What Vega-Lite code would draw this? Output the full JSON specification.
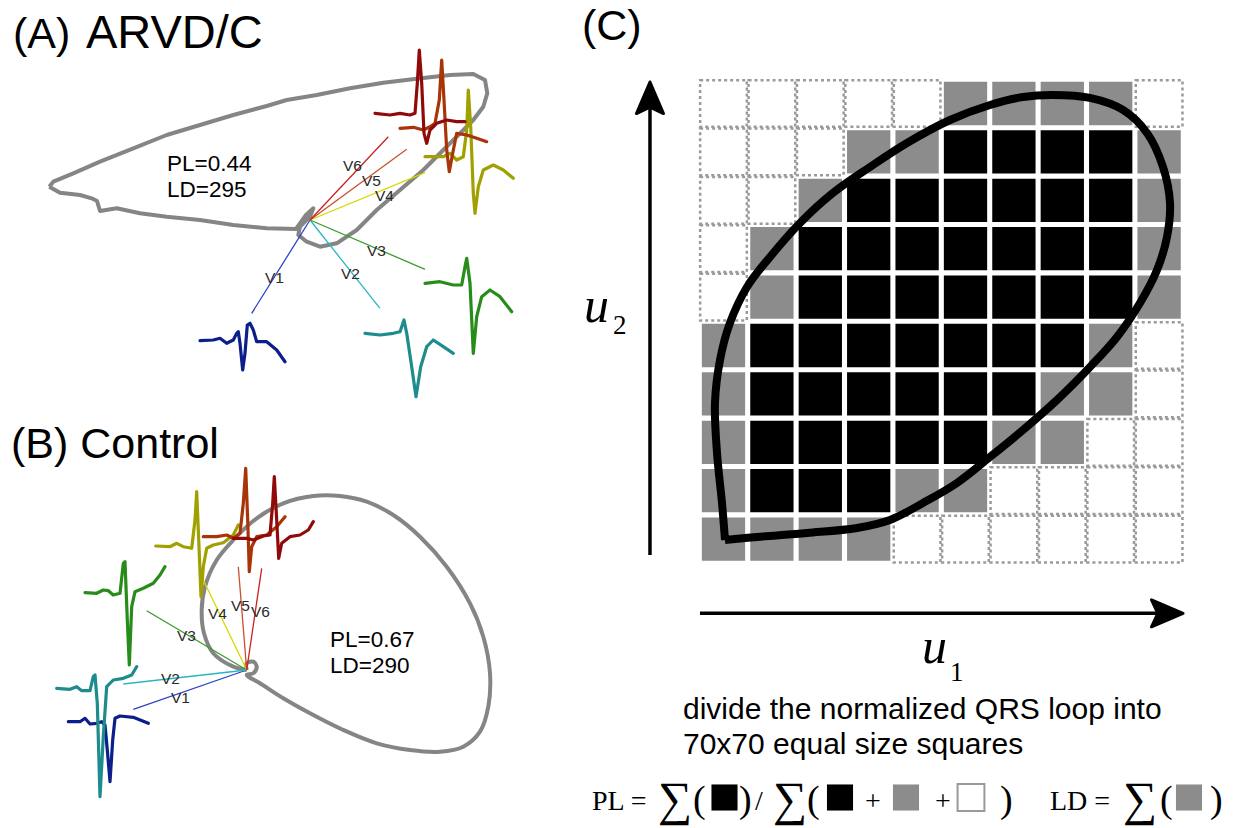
{
  "$schema": "https://vega.github.io/schema/vega-lite/v6.json",
  "width": 1238,
  "height": 828,
  "padding": 0,
  "autosize": {"type": "none"},
  "background": "white",
  "config": {"view": {"stroke": null}},
  "datasets": {
    "cells": [
      {"u":1,"v":10,"k":"E"},{"u":2,"v":10,"k":"E"},{"u":3,"v":10,"k":"E"},{"u":4,"v":10,"k":"E"},{"u":5,"v":10,"k":"E"},{"u":6,"v":10,"k":"G"},{"u":7,"v":10,"k":"G"},{"u":8,"v":10,"k":"G"},{"u":9,"v":10,"k":"G"},{"u":10,"v":10,"k":"E"},
      {"u":1,"v":9,"k":"E"},{"u":2,"v":9,"k":"E"},{"u":3,"v":9,"k":"E"},{"u":4,"v":9,"k":"G"},{"u":5,"v":9,"k":"G"},{"u":6,"v":9,"k":"B"},{"u":7,"v":9,"k":"B"},{"u":8,"v":9,"k":"B"},{"u":9,"v":9,"k":"B"},{"u":10,"v":9,"k":"G"},
      {"u":1,"v":8,"k":"E"},{"u":2,"v":8,"k":"E"},{"u":3,"v":8,"k":"G"},{"u":4,"v":8,"k":"B"},{"u":5,"v":8,"k":"B"},{"u":6,"v":8,"k":"B"},{"u":7,"v":8,"k":"B"},{"u":8,"v":8,"k":"B"},{"u":9,"v":8,"k":"B"},{"u":10,"v":8,"k":"G"},
      {"u":1,"v":7,"k":"E"},{"u":2,"v":7,"k":"G"},{"u":3,"v":7,"k":"B"},{"u":4,"v":7,"k":"B"},{"u":5,"v":7,"k":"B"},{"u":6,"v":7,"k":"B"},{"u":7,"v":7,"k":"B"},{"u":8,"v":7,"k":"B"},{"u":9,"v":7,"k":"B"},{"u":10,"v":7,"k":"G"},
      {"u":1,"v":6,"k":"E"},{"u":2,"v":6,"k":"G"},{"u":3,"v":6,"k":"B"},{"u":4,"v":6,"k":"B"},{"u":5,"v":6,"k":"B"},{"u":6,"v":6,"k":"B"},{"u":7,"v":6,"k":"B"},{"u":8,"v":6,"k":"B"},{"u":9,"v":6,"k":"B"},{"u":10,"v":6,"k":"G"},
      {"u":1,"v":5,"k":"G"},{"u":2,"v":5,"k":"B"},{"u":3,"v":5,"k":"B"},{"u":4,"v":5,"k":"B"},{"u":5,"v":5,"k":"B"},{"u":6,"v":5,"k":"B"},{"u":7,"v":5,"k":"B"},{"u":8,"v":5,"k":"B"},{"u":9,"v":5,"k":"G"},{"u":10,"v":5,"k":"E"},
      {"u":1,"v":4,"k":"G"},{"u":2,"v":4,"k":"B"},{"u":3,"v":4,"k":"B"},{"u":4,"v":4,"k":"B"},{"u":5,"v":4,"k":"B"},{"u":6,"v":4,"k":"B"},{"u":7,"v":4,"k":"B"},{"u":8,"v":4,"k":"G"},{"u":9,"v":4,"k":"G"},{"u":10,"v":4,"k":"E"},
      {"u":1,"v":3,"k":"G"},{"u":2,"v":3,"k":"B"},{"u":3,"v":3,"k":"B"},{"u":4,"v":3,"k":"B"},{"u":5,"v":3,"k":"B"},{"u":6,"v":3,"k":"B"},{"u":7,"v":3,"k":"G"},{"u":8,"v":3,"k":"G"},{"u":9,"v":3,"k":"E"},{"u":10,"v":3,"k":"E"},
      {"u":1,"v":2,"k":"G"},{"u":2,"v":2,"k":"B"},{"u":3,"v":2,"k":"B"},{"u":4,"v":2,"k":"B"},{"u":5,"v":2,"k":"G"},{"u":6,"v":2,"k":"G"},{"u":7,"v":2,"k":"E"},{"u":8,"v":2,"k":"E"},{"u":9,"v":2,"k":"E"},{"u":10,"v":2,"k":"E"},
      {"u":1,"v":1,"k":"G"},{"u":2,"v":1,"k":"G"},{"u":3,"v":1,"k":"G"},{"u":4,"v":1,"k":"G"},{"u":5,"v":1,"k":"E"},{"u":6,"v":1,"k":"E"},{"u":7,"v":1,"k":"E"},{"u":8,"v":1,"k":"E"},{"u":9,"v":1,"k":"E"},{"u":10,"v":1,"k":"E"}
    ],
    "loopC": [
      {"i":0,"u":1.031,"v":0.981},{"i":1,"u":0.969,"v":1.746},{"i":2,"u":0.866,"v":2.779},{"i":3,"u":0.824,"v":3.812},{"i":4,"u":0.928,"v":4.7},{"i":5,"u":1.134,"v":5.465},{"i":6,"u":1.486,"v":6.209},{"i":7,"u":1.961,"v":6.829},{"i":8,"u":2.581,"v":7.531},{"i":9,"u":3.262,"v":8.151},{"i":10,"u":4.027,"v":8.688},{"i":11,"u":4.791,"v":9.184},{"i":12,"u":5.68,"v":9.659},{"i":13,"u":6.506,"v":9.969},{"i":14,"u":7.188,"v":10.134},{"i":15,"u":7.808,"v":10.176},{"i":16,"u":8.572,"v":10.114},{"i":17,"u":9.254,"v":9.866},{"i":18,"u":9.75,"v":9.39},{"i":19,"u":10.081,"v":8.688},{"i":20,"u":10.225,"v":7.944},{"i":21,"u":10.163,"v":7.242},{"i":22,"u":9.957,"v":6.56},{"i":23,"u":9.605,"v":5.878},{"i":24,"u":9.13,"v":5.176},{"i":25,"u":8.572,"v":4.556},{"i":26,"u":7.89,"v":3.874},{"i":27,"u":7.188,"v":3.254},{"i":28,"u":6.506,"v":2.696},{"i":29,"u":5.824,"v":2.159},{"i":30,"u":5.122,"v":1.746},{"i":31,"u":4.44,"v":1.395},{"i":32,"u":3.758,"v":1.229},{"i":33,"u":2.725,"v":1.126},{"i":34,"u":1.692,"v":1.043},{"i":35,"u":1.031,"v":0.981}
    ],
    "axesC": [
      {"axis":"u1","i":0,"u":0.514,"v":-0.533},{"axis":"u1","i":1,"u":10.02,"v":-0.533},
      {"axis":"u2","i":0,"u":-0.519,"v":0.671},{"axis":"u2","i":1,"u":-0.519,"v":9.97}
    ],
    "headsC": [
      {"axis":"u1","u":10.122,"v":-0.533},
      {"axis":"u2","u":-0.519,"v":10.072}
    ],
    "loops": [
      {"p":"A","i":0,"x":49.3,"y":186.7},{"p":"A","i":1,"x":53.3,"y":181.7},{"p":"A","i":2,"x":73.3,"y":173.3},{"p":"A","i":3,"x":100,"y":161.7},{"p":"A","i":4,"x":133.3,"y":148.3},{"p":"A","i":5,"x":166.7,"y":135},{"p":"A","i":6,"x":200,"y":125},{"p":"A","i":7,"x":233.3,"y":115},{"p":"A","i":8,"x":266.7,"y":106},{"p":"A","i":9,"x":286.7,"y":100},{"p":"A","i":10,"x":316.7,"y":95},{"p":"A","i":11,"x":350,"y":88.3},{"p":"A","i":12,"x":383.3,"y":82.7},{"p":"A","i":13,"x":416.7,"y":78.7},{"p":"A","i":14,"x":450,"y":75},{"p":"A","i":15,"x":473.3,"y":74},{"p":"A","i":16,"x":485,"y":80},{"p":"A","i":17,"x":487.3,"y":93.3},{"p":"A","i":18,"x":483.3,"y":106.7},{"p":"A","i":19,"x":473.3,"y":120},{"p":"A","i":20,"x":460,"y":133.3},{"p":"A","i":21,"x":443.3,"y":150},{"p":"A","i":22,"x":423.3,"y":170},{"p":"A","i":23,"x":400,"y":190},{"p":"A","i":24,"x":376.7,"y":210},{"p":"A","i":25,"x":356.7,"y":230},{"p":"A","i":26,"x":336.7,"y":243.3},{"p":"A","i":27,"x":320,"y":246.7},{"p":"A","i":28,"x":306.7,"y":241.7},{"p":"A","i":29,"x":298.3,"y":235},{"p":"A","i":30,"x":300,"y":226.7},{"p":"A","i":31,"x":310,"y":216.7},{"p":"A","i":32,"x":313.3,"y":208.3},{"p":"A","i":33,"x":306,"y":215},{"p":"A","i":34,"x":296,"y":229},{"p":"A","i":35,"x":266.7,"y":228.3},{"p":"A","i":36,"x":233.3,"y":225},{"p":"A","i":37,"x":200,"y":220},{"p":"A","i":38,"x":166.7,"y":216.7},{"p":"A","i":39,"x":140,"y":213.3},{"p":"A","i":40,"x":116.7,"y":208.3},{"p":"A","i":41,"x":100,"y":211},{"p":"A","i":42,"x":97,"y":201},{"p":"A","i":43,"x":91.7,"y":198.3},{"p":"A","i":44,"x":80,"y":195},{"p":"A","i":45,"x":60,"y":192.7},{"p":"A","i":46,"x":49.3,"y":186.7},
      {"p":"B","i":0,"x":246.7,"y":670},{"p":"B","i":1,"x":233.3,"y":666.7},{"p":"B","i":2,"x":213.3,"y":653.3},{"p":"B","i":3,"x":204,"y":633.3},{"p":"B","i":4,"x":201.7,"y":610},{"p":"B","i":5,"x":205,"y":586.7},{"p":"B","i":6,"x":216.7,"y":560},{"p":"B","i":7,"x":233.3,"y":540},{"p":"B","i":8,"x":256.7,"y":518.3},{"p":"B","i":9,"x":283.3,"y":503.3},{"p":"B","i":10,"x":313.3,"y":496},{"p":"B","i":11,"x":340,"y":496},{"p":"B","i":12,"x":366.7,"y":501.7},{"p":"B","i":13,"x":393.3,"y":515},{"p":"B","i":14,"x":420,"y":536.7},{"p":"B","i":15,"x":446.7,"y":566.7},{"p":"B","i":16,"x":470,"y":603.3},{"p":"B","i":17,"x":483.3,"y":636.7},{"p":"B","i":18,"x":490,"y":673.3},{"p":"B","i":19,"x":488.3,"y":706.7},{"p":"B","i":20,"x":480,"y":731.7},{"p":"B","i":21,"x":463.3,"y":746.7},{"p":"B","i":22,"x":440,"y":751.7},{"p":"B","i":23,"x":410,"y":750},{"p":"B","i":24,"x":376.7,"y":743.3},{"p":"B","i":25,"x":343.3,"y":730},{"p":"B","i":26,"x":310,"y":713.3},{"p":"B","i":27,"x":283.3,"y":698.3},{"p":"B","i":28,"x":260,"y":683.3},{"p":"B","i":29,"x":246.7,"y":675},{"p":"B","i":30,"x":253.3,"y":673.3},{"p":"B","i":31,"x":256.7,"y":666.7},{"p":"B","i":32,"x":253.3,"y":661.7},{"p":"B","i":33,"x":246.7,"y":663.3},{"p":"B","i":34,"x":246.7,"y":670}
    ],
    "leads": [
      {"p":"A","lead":"V1","i":0,"x":310,"y":220},{"p":"A","lead":"V1","i":1,"x":251.7,"y":313.3},
      {"p":"A","lead":"V2","i":0,"x":310,"y":220},{"p":"A","lead":"V2","i":1,"x":380,"y":308.3},
      {"p":"A","lead":"V3","i":0,"x":310,"y":220},{"p":"A","lead":"V3","i":1,"x":425,"y":269.3},
      {"p":"A","lead":"V4","i":0,"x":310,"y":220},{"p":"A","lead":"V4","i":1,"x":425,"y":172.7},
      {"p":"A","lead":"V5","i":0,"x":310,"y":220},{"p":"A","lead":"V5","i":1,"x":406.7,"y":149.3},
      {"p":"A","lead":"V6","i":0,"x":310,"y":220},{"p":"A","lead":"V6","i":1,"x":388.3,"y":136.7},
      {"p":"B","lead":"V1","i":0,"x":246.7,"y":670},{"p":"B","lead":"V1","i":1,"x":133.3,"y":709.3},
      {"p":"B","lead":"V2","i":0,"x":246.7,"y":670},{"p":"B","lead":"V2","i":1,"x":123.3,"y":684},
      {"p":"B","lead":"V3","i":0,"x":246.7,"y":670},{"p":"B","lead":"V3","i":1,"x":146.7,"y":610.7},
      {"p":"B","lead":"V4","i":0,"x":246.7,"y":670},{"p":"B","lead":"V4","i":1,"x":203.3,"y":580},
      {"p":"B","lead":"V5","i":0,"x":246.7,"y":670},{"p":"B","lead":"V5","i":1,"x":238.3,"y":566.7},
      {"p":"B","lead":"V6","i":0,"x":246.7,"y":670},{"p":"B","lead":"V6","i":1,"x":261.7,"y":568.3}
    ],
    "ecg": [
      {"p":"A","lead":"V1","i":0,"x":200,"y":340.7},{"p":"A","lead":"V1","i":1,"x":213.3,"y":340},{"p":"A","lead":"V1","i":2,"x":220,"y":338.3},{"p":"A","lead":"V1","i":3,"x":226.7,"y":343.3},{"p":"A","lead":"V1","i":4,"x":233.3,"y":340},{"p":"A","lead":"V1","i":5,"x":236.7,"y":333.3},{"p":"A","lead":"V1","i":6,"x":238.3,"y":331.7},{"p":"A","lead":"V1","i":7,"x":240,"y":343.3},{"p":"A","lead":"V1","i":8,"x":242.7,"y":370},{"p":"A","lead":"V1","i":9,"x":245,"y":353.3},{"p":"A","lead":"V1","i":10,"x":247.3,"y":325},{"p":"A","lead":"V1","i":11,"x":250,"y":323.3},{"p":"A","lead":"V1","i":12,"x":253.3,"y":330},{"p":"A","lead":"V1","i":13,"x":256.7,"y":341.7},{"p":"A","lead":"V1","i":14,"x":266.7,"y":341.7},{"p":"A","lead":"V1","i":15,"x":276.7,"y":350},{"p":"A","lead":"V1","i":16,"x":285,"y":361.7},
      {"p":"A","lead":"V2","i":0,"x":365,"y":333.3},{"p":"A","lead":"V2","i":1,"x":380,"y":335},{"p":"A","lead":"V2","i":2,"x":393.3,"y":333.3},{"p":"A","lead":"V2","i":3,"x":400,"y":331.7},{"p":"A","lead":"V2","i":4,"x":404,"y":320},{"p":"A","lead":"V2","i":5,"x":406.7,"y":333.3},{"p":"A","lead":"V2","i":6,"x":411.7,"y":366.7},{"p":"A","lead":"V2","i":7,"x":416,"y":396.7},{"p":"A","lead":"V2","i":8,"x":420.7,"y":366.7},{"p":"A","lead":"V2","i":9,"x":426.7,"y":346.7},{"p":"A","lead":"V2","i":10,"x":433.3,"y":340},{"p":"A","lead":"V2","i":11,"x":443.3,"y":346.7},{"p":"A","lead":"V2","i":12,"x":453.3,"y":353.3},
      {"p":"A","lead":"V3","i":0,"x":425,"y":283.3},{"p":"A","lead":"V3","i":1,"x":440,"y":281.7},{"p":"A","lead":"V3","i":2,"x":453.3,"y":285},{"p":"A","lead":"V3","i":3,"x":461.7,"y":285},{"p":"A","lead":"V3","i":4,"x":465,"y":266.7},{"p":"A","lead":"V3","i":5,"x":466.7,"y":258.3},{"p":"A","lead":"V3","i":6,"x":470,"y":283.3},{"p":"A","lead":"V3","i":7,"x":473.3,"y":353.3},{"p":"A","lead":"V3","i":8,"x":476.7,"y":316.7},{"p":"A","lead":"V3","i":9,"x":481.7,"y":296.7},{"p":"A","lead":"V3","i":10,"x":490,"y":290},{"p":"A","lead":"V3","i":11,"x":500,"y":296.7},{"p":"A","lead":"V3","i":12,"x":511.7,"y":311.7},
      {"p":"A","lead":"V4","i":0,"x":425,"y":156.7},{"p":"A","lead":"V4","i":1,"x":443.3,"y":156.7},{"p":"A","lead":"V4","i":2,"x":450,"y":153.3},{"p":"A","lead":"V4","i":3,"x":456.7,"y":160},{"p":"A","lead":"V4","i":4,"x":463.3,"y":156.7},{"p":"A","lead":"V4","i":5,"x":466.7,"y":130},{"p":"A","lead":"V4","i":6,"x":468.3,"y":90},{"p":"A","lead":"V4","i":7,"x":470.7,"y":126.7},{"p":"A","lead":"V4","i":8,"x":473.3,"y":193.3},{"p":"A","lead":"V4","i":9,"x":475,"y":213.3},{"p":"A","lead":"V4","i":10,"x":478.3,"y":186.7},{"p":"A","lead":"V4","i":11,"x":483.3,"y":170},{"p":"A","lead":"V4","i":12,"x":493.3,"y":165},{"p":"A","lead":"V4","i":13,"x":503.3,"y":170},{"p":"A","lead":"V4","i":14,"x":513.3,"y":178.3},
      {"p":"A","lead":"V5","i":0,"x":400,"y":128.3},{"p":"A","lead":"V5","i":1,"x":413.3,"y":127.3},{"p":"A","lead":"V5","i":2,"x":423.3,"y":130},{"p":"A","lead":"V5","i":3,"x":430,"y":126.7},{"p":"A","lead":"V5","i":4,"x":435,"y":123.3},{"p":"A","lead":"V5","i":5,"x":439.3,"y":100},{"p":"A","lead":"V5","i":6,"x":441.7,"y":60},{"p":"A","lead":"V5","i":7,"x":444,"y":100},{"p":"A","lead":"V5","i":8,"x":446.7,"y":150},{"p":"A","lead":"V5","i":9,"x":449.3,"y":171.7},{"p":"A","lead":"V5","i":10,"x":452.7,"y":153.3},{"p":"A","lead":"V5","i":11,"x":456.7,"y":133.3},{"p":"A","lead":"V5","i":12,"x":466.7,"y":135},{"p":"A","lead":"V5","i":13,"x":476.7,"y":138.3},{"p":"A","lead":"V5","i":14,"x":486.7,"y":141.7},
      {"p":"A","lead":"V6","i":0,"x":375,"y":113.3},{"p":"A","lead":"V6","i":1,"x":390,"y":115},{"p":"A","lead":"V6","i":2,"x":400,"y":113.3},{"p":"A","lead":"V6","i":3,"x":410,"y":115},{"p":"A","lead":"V6","i":4,"x":415,"y":113.3},{"p":"A","lead":"V6","i":5,"x":417.3,"y":83.3},{"p":"A","lead":"V6","i":6,"x":419.3,"y":50},{"p":"A","lead":"V6","i":7,"x":421.7,"y":83.3},{"p":"A","lead":"V6","i":8,"x":424,"y":133.3},{"p":"A","lead":"V6","i":9,"x":426.7,"y":143.3},{"p":"A","lead":"V6","i":10,"x":430,"y":130},{"p":"A","lead":"V6","i":11,"x":436.7,"y":123.3},{"p":"A","lead":"V6","i":12,"x":446.7,"y":120},{"p":"A","lead":"V6","i":13,"x":456.7,"y":121.7},{"p":"A","lead":"V6","i":14,"x":465,"y":121.7},
      {"p":"B","lead":"V1","i":0,"x":68.3,"y":721.7},{"p":"B","lead":"V1","i":1,"x":80,"y":721.7},{"p":"B","lead":"V1","i":2,"x":85,"y":718.3},{"p":"B","lead":"V1","i":3,"x":90,"y":724},{"p":"B","lead":"V1","i":4,"x":96.7,"y":723.3},{"p":"B","lead":"V1","i":5,"x":101.7,"y":721.7},{"p":"B","lead":"V1","i":6,"x":105,"y":725},{"p":"B","lead":"V1","i":7,"x":107.3,"y":750},{"p":"B","lead":"V1","i":8,"x":110,"y":781.7},{"p":"B","lead":"V1","i":9,"x":112.7,"y":740},{"p":"B","lead":"V1","i":10,"x":115,"y":718.3},{"p":"B","lead":"V1","i":11,"x":120,"y":716},{"p":"B","lead":"V1","i":12,"x":133.3,"y":717.3},{"p":"B","lead":"V1","i":13,"x":148.3,"y":723.3},
      {"p":"B","lead":"V2","i":0,"x":56.7,"y":688.3},{"p":"B","lead":"V2","i":1,"x":70,"y":689.3},{"p":"B","lead":"V2","i":2,"x":76.7,"y":686.7},{"p":"B","lead":"V2","i":3,"x":81.7,"y":690.7},{"p":"B","lead":"V2","i":4,"x":90,"y":690.7},{"p":"B","lead":"V2","i":5,"x":93.3,"y":676.7},{"p":"B","lead":"V2","i":6,"x":95,"y":675},{"p":"B","lead":"V2","i":7,"x":97.3,"y":703.3},{"p":"B","lead":"V2","i":8,"x":100,"y":796.7},{"p":"B","lead":"V2","i":9,"x":103.3,"y":736.7},{"p":"B","lead":"V2","i":10,"x":106.7,"y":686.7},{"p":"B","lead":"V2","i":11,"x":113.3,"y":680},{"p":"B","lead":"V2","i":12,"x":123.3,"y":678.3},{"p":"B","lead":"V2","i":13,"x":131.7,"y":675},{"p":"B","lead":"V2","i":14,"x":136.7,"y":666.7},
      {"p":"B","lead":"V3","i":0,"x":85,"y":592.7},{"p":"B","lead":"V3","i":1,"x":96.7,"y":593.3},{"p":"B","lead":"V3","i":2,"x":103.3,"y":590},{"p":"B","lead":"V3","i":3,"x":108.3,"y":590.7},{"p":"B","lead":"V3","i":4,"x":113.3,"y":595},{"p":"B","lead":"V3","i":5,"x":120,"y":593.3},{"p":"B","lead":"V3","i":6,"x":123.3,"y":563.3},{"p":"B","lead":"V3","i":7,"x":125,"y":561.7},{"p":"B","lead":"V3","i":8,"x":127.3,"y":620},{"p":"B","lead":"V3","i":9,"x":129.3,"y":665},{"p":"B","lead":"V3","i":10,"x":131.7,"y":606.7},{"p":"B","lead":"V3","i":11,"x":135,"y":591.7},{"p":"B","lead":"V3","i":12,"x":143.3,"y":588.3},{"p":"B","lead":"V3","i":13,"x":153.3,"y":583.3},{"p":"B","lead":"V3","i":14,"x":160,"y":575},{"p":"B","lead":"V3","i":15,"x":165,"y":566.7},
      {"p":"B","lead":"V4","i":0,"x":155.7,"y":546},{"p":"B","lead":"V4","i":1,"x":170,"y":546.7},{"p":"B","lead":"V4","i":2,"x":176.7,"y":543.3},{"p":"B","lead":"V4","i":3,"x":183.3,"y":546.7},{"p":"B","lead":"V4","i":4,"x":191.7,"y":548.3},{"p":"B","lead":"V4","i":5,"x":195,"y":520},{"p":"B","lead":"V4","i":6,"x":196.7,"y":491.7},{"p":"B","lead":"V4","i":7,"x":199,"y":546.7},{"p":"B","lead":"V4","i":8,"x":201,"y":596.7},{"p":"B","lead":"V4","i":9,"x":203.3,"y":566.7},{"p":"B","lead":"V4","i":10,"x":206.7,"y":548.3},{"p":"B","lead":"V4","i":11,"x":213.3,"y":545},{"p":"B","lead":"V4","i":12,"x":223.3,"y":542.7},{"p":"B","lead":"V4","i":13,"x":233.3,"y":535},{"p":"B","lead":"V4","i":14,"x":238.3,"y":525},
      {"p":"B","lead":"V5","i":0,"x":203.3,"y":536.7},{"p":"B","lead":"V5","i":1,"x":216.7,"y":536.7},{"p":"B","lead":"V5","i":2,"x":226.7,"y":535},{"p":"B","lead":"V5","i":3,"x":233.3,"y":538.3},{"p":"B","lead":"V5","i":4,"x":240,"y":533.3},{"p":"B","lead":"V5","i":5,"x":243.3,"y":503.3},{"p":"B","lead":"V5","i":6,"x":245.7,"y":468.3},{"p":"B","lead":"V5","i":7,"x":247.7,"y":520},{"p":"B","lead":"V5","i":8,"x":249.3,"y":571.7},{"p":"B","lead":"V5","i":9,"x":251.7,"y":546.7},{"p":"B","lead":"V5","i":10,"x":256.7,"y":536.7},{"p":"B","lead":"V5","i":11,"x":266.7,"y":535},{"p":"B","lead":"V5","i":12,"x":276.7,"y":526.7},{"p":"B","lead":"V5","i":13,"x":285,"y":516.7},
      {"p":"B","lead":"V6","i":0,"x":233.3,"y":538.3},{"p":"B","lead":"V6","i":1,"x":246.7,"y":538.3},{"p":"B","lead":"V6","i":2,"x":253.3,"y":540},{"p":"B","lead":"V6","i":3,"x":263.3,"y":536},{"p":"B","lead":"V6","i":4,"x":270,"y":535},{"p":"B","lead":"V6","i":5,"x":272.7,"y":503.3},{"p":"B","lead":"V6","i":6,"x":274.3,"y":476.7},{"p":"B","lead":"V6","i":7,"x":276.7,"y":520},{"p":"B","lead":"V6","i":8,"x":278.7,"y":558.3},{"p":"B","lead":"V6","i":9,"x":281.7,"y":543.3},{"p":"B","lead":"V6","i":10,"x":290,"y":536.7},{"p":"B","lead":"V6","i":11,"x":300,"y":535},{"p":"B","lead":"V6","i":12,"x":308.3,"y":530},{"p":"B","lead":"V6","i":13,"x":313.3,"y":521.7}
    ],
    "leadLabels": [
      {"t":"V1","x":265,"y":283},{"t":"V2","x":341,"y":279},{"t":"V3","x":367,"y":256},{"t":"V4","x":375,"y":201},{"t":"V5","x":362,"y":186},{"t":"V6","x":343,"y":171},
      {"t":"V1","x":171,"y":703},{"t":"V2","x":161,"y":684},{"t":"V3","x":177,"y":641},{"t":"V4","x":208,"y":619},{"t":"V5","x":231,"y":611},{"t":"V6","x":251,"y":617}
    ],
    "titles": [
      {"t":"(A)","x":13,"y":48},
      {"t":"(B) Control","x":11,"y":458},
      {"t":"(C)","x":582,"y":40}
    ],
    "titleWide": [
      {"t":"ARVD/C","x":86,"y":48}
    ],
    "stats": [
      {"t":"PL=0.44","x":167,"y":171},{"t":"LD=295","x":167,"y":197},
      {"t":"PL=0.67","x":330,"y":647},{"t":"LD=290","x":330,"y":673}
    ],
    "notes": [
      {"t":"divide the normalized QRS loop into","x":683,"y":719},
      {"t":"70x70 equal size squares","x":683,"y":754}
    ],
    "axisLetters": [{"t":"u","x":584,"y":322},{"t":"u","x":922,"y":663}],
    "axisSubs": [{"t":"2","x":613,"y":334},{"t":"1","x":950,"y":681}],
    "formulaText": [
      {"t":"PL =","x":592,"y":810},{"t":"/","x":755,"y":810},{"t":"+","x":865,"y":810},{"t":"+","x":935,"y":810},{"t":"LD =","x":1050,"y":810}
    ],
    "formulaParens": [
      {"t":"(","x":693,"y":812},{"t":")","x":739,"y":812},{"t":"(","x":807,"y":812},{"t":")","x":1000,"y":812},{"t":"(","x":1160,"y":812},{"t":")","x":1210,"y":812}
    ],
    "formulaSigma": [
      {"t":"∑","x":658,"y":815},{"t":"∑","x":773,"y":815},{"t":"∑","x":1123,"y":815}
    ],
    "formulaBoxes": [
      {"k":"B","x":724.5,"y":797.5},{"k":"B","x":840,"y":797.5},{"k":"G","x":906,"y":797.5},{"k":"E","x":971,"y":797.5},{"k":"G","x":1189,"y":797.5}
    ]
  },
  "resolve": {"scale": {"x": "independent", "y": "independent"}},
  "layer": [
    {
      "encoding": {
        "x": {"field": "x", "type": "quantitative", "axis": null, "scale": {"domain": [0, 1238], "nice": false, "zero": false}},
        "y": {"field": "y", "type": "quantitative", "axis": null, "scale": {"domain": [0, 828], "nice": false, "zero": false, "reverse": true}}
      },
      "layer": [
        {
          "data": {"name": "loops"},
          "transform": [{"filter": "datum.p == 'A'"}],
          "mark": {"type": "line", "color": "#858585", "strokeWidth": 4, "strokeJoin": "round", "interpolate": "linear"},
          "encoding": {"order": {"field": "i", "type": "quantitative"}}
        },
        {
          "data": {"name": "loops"},
          "transform": [{"filter": "datum.p == 'B'"}],
          "mark": {"type": "line", "color": "#858585", "strokeWidth": 4, "strokeJoin": "round", "interpolate": "catmull-rom"},
          "encoding": {"order": {"field": "i", "type": "quantitative"}}
        },
        {
          "data": {"name": "leads"},
          "mark": {"type": "line", "strokeWidth": 1.3},
          "encoding": {
            "detail": {"field": "p"},
            "order": {"field": "i", "type": "quantitative"},
            "stroke": {"field": "lead", "type": "nominal", "legend": null,
              "scale": {"domain": ["V1","V2","V3","V4","V5","V6"], "range": ["#2a44c4","#2ab4c4","#3a9e2a","#d8d800","#c8502a","#c82222"]}}
          }
        },
        {
          "data": {"name": "ecg"},
          "mark": {"type": "line", "strokeWidth": 3.2, "strokeJoin": "round", "strokeCap": "round"},
          "encoding": {
            "detail": {"field": "p"},
            "order": {"field": "i", "type": "quantitative"},
            "color": {"field": "lead", "type": "nominal", "legend": null,
              "scale": {"domain": ["V1","V2","V3","V4","V5","V6"], "range": ["#0c1e8c","#1c8c8c","#288c1a","#a0a000","#a83508","#900a0a"]}}
          }
        },
        {
          "data": {"name": "leadLabels"},
          "mark": {"type": "text", "align": "left", "baseline": "alphabetic", "font": "Liberation Sans", "fontSize": 15.5, "color": "#2a2a2a"},
          "encoding": {"text": {"field": "t"}}
        },
        {
          "data": {"name": "titles"},
          "mark": {"type": "text", "align": "left", "baseline": "alphabetic", "font": "Liberation Sans", "fontSize": 43, "color": "#000000"},
          "encoding": {"text": {"field": "t"}}
        },
        {
          "data": {"name": "titleWide"},
          "mark": {"type": "text", "align": "left", "baseline": "alphabetic", "font": "Liberation Sans", "fontSize": 47, "color": "#000000"},
          "encoding": {"text": {"field": "t"}}
        },
        {
          "data": {"name": "stats"},
          "mark": {"type": "text", "align": "left", "baseline": "alphabetic", "font": "Liberation Sans", "fontSize": 22.5, "color": "#000000"},
          "encoding": {"text": {"field": "t"}}
        },
        {
          "data": {"name": "notes"},
          "mark": {"type": "text", "align": "left", "baseline": "alphabetic", "font": "Liberation Sans", "fontSize": 30, "color": "#000000"},
          "encoding": {"text": {"field": "t"}}
        },
        {
          "data": {"name": "axisLetters"},
          "mark": {"type": "text", "align": "left", "baseline": "alphabetic", "font": "Liberation Serif", "fontStyle": "italic", "fontSize": 50, "color": "#000000"},
          "encoding": {"text": {"field": "t"}}
        },
        {
          "data": {"name": "axisSubs"},
          "mark": {"type": "text", "align": "left", "baseline": "alphabetic", "font": "Liberation Serif", "fontSize": 27, "color": "#000000"},
          "encoding": {"text": {"field": "t"}}
        },
        {
          "data": {"name": "formulaText"},
          "mark": {"type": "text", "align": "left", "baseline": "alphabetic", "font": "Liberation Serif", "fontSize": 28, "color": "#000000"},
          "encoding": {"text": {"field": "t"}}
        },
        {
          "data": {"name": "formulaParens"},
          "mark": {"type": "text", "align": "left", "baseline": "alphabetic", "font": "Liberation Serif", "fontSize": 38, "color": "#000000"},
          "encoding": {"text": {"field": "t"}}
        },
        {
          "data": {"name": "formulaSigma"},
          "mark": {"type": "text", "align": "left", "baseline": "alphabetic", "font": "Liberation Serif", "fontSize": 48, "color": "#000000"},
          "encoding": {"text": {"field": "t"}}
        },
        {
          "data": {"name": "formulaBoxes"},
          "transform": [{"filter": "datum.k == 'B'"}],
          "mark": {"type": "point", "shape": "square", "filled": true, "size": 680, "color": "#000000", "opacity": 1}
        },
        {
          "data": {"name": "formulaBoxes"},
          "transform": [{"filter": "datum.k == 'G'"}],
          "mark": {"type": "point", "shape": "square", "filled": true, "size": 680, "color": "#8c8c8c", "opacity": 1}
        },
        {
          "data": {"name": "formulaBoxes"},
          "transform": [{"filter": "datum.k == 'E'"}],
          "mark": {"type": "point", "shape": "square", "filled": false, "size": 720, "stroke": "#9a9a9a", "strokeWidth": 2, "opacity": 1}
        }
      ]
    },
    {
      "encoding": {
        "x": {"field": "u", "type": "quantitative", "axis": null, "scale": {"domain": [-13.948, 11.63], "nice": false, "zero": false}},
        "y": {"field": "v", "type": "quantitative", "axis": null, "scale": {"domain": [-4.969, 12.138], "nice": false, "zero": false}}
      },
      "layer": [
        {
          "data": {"name": "cells"},
          "transform": [{"filter": "datum.k == 'E'"}],
          "mark": {"type": "point", "shape": "square", "filled": false, "size": 2180, "stroke": "#9a9a9a", "strokeWidth": 2.5, "strokeDash": [3, 3], "opacity": 1}
        },
        {
          "data": {"name": "cells"},
          "transform": [{"filter": "datum.k == 'G'"}],
          "mark": {"type": "point", "shape": "square", "filled": true, "size": 1875, "color": "#8c8c8c", "opacity": 1}
        },
        {
          "data": {"name": "cells"},
          "transform": [{"filter": "datum.k == 'B'"}],
          "mark": {"type": "point", "shape": "square", "filled": true, "size": 1875, "color": "#000000", "opacity": 1}
        },
        {
          "data": {"name": "loopC"},
          "mark": {"type": "line", "color": "#000000", "strokeWidth": 8, "strokeJoin": "round", "interpolate": "catmull-rom"},
          "encoding": {"order": {"field": "i", "type": "quantitative"}}
        },
        {
          "data": {"name": "axesC"},
          "mark": {"type": "line", "color": "#000000", "strokeWidth": 3.5},
          "encoding": {"detail": {"field": "axis"}, "order": {"field": "i", "type": "quantitative"}}
        },
        {
          "data": {"name": "headsC"},
          "transform": [{"filter": "datum.axis == 'u2'"}],
          "mark": {"type": "point", "shape": "M0,-1L0.75,0.75L0,0.4L-0.75,0.75Z", "filled": true, "size": 1300, "color": "#000000", "stroke": "#000000", "strokeWidth": 3, "strokeJoin": "round", "opacity": 1}
        },
        {
          "data": {"name": "headsC"},
          "transform": [{"filter": "datum.axis == 'u1'"}],
          "mark": {"type": "point", "shape": "M0,-1L0.75,0.75L0,0.4L-0.75,0.75Z", "angle": 90, "filled": true, "size": 1300, "color": "#000000", "stroke": "#000000", "strokeWidth": 3, "strokeJoin": "round", "opacity": 1}
        }
      ]
    }
  ]
}
